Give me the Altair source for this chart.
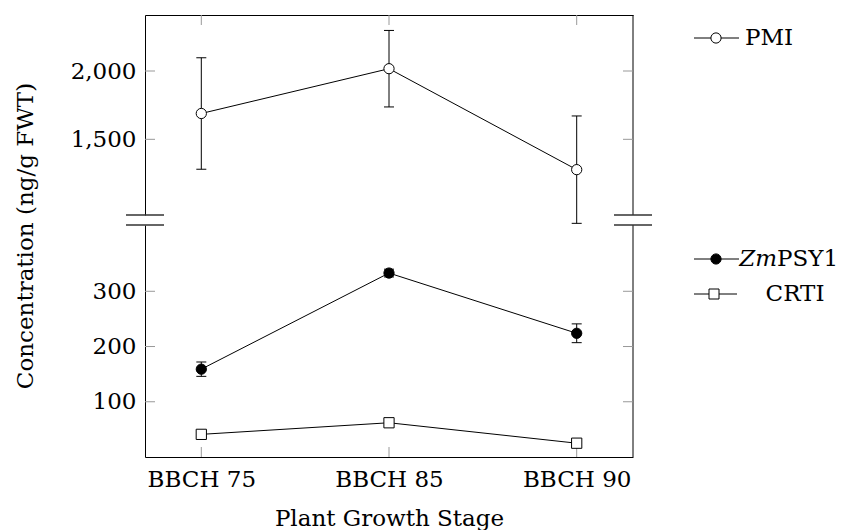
import altair as alt
import pandas as pd

# ---- data ----
stages = ["BBCH 75", "BBCH 85", "BBCH 90"]
pmi_mean = [1689, 2017, 1278]
pmi_err = [408, 280, 393]
psy_mean = [159, 333, 224]
psy_err = [13, 7, 17]
crti_mean = [41, 62, 25]
top_ticks = [1500, 2000]
bottom_ticks = [100, 200, 300]
top_domain = [946, 2410]
bottom_domain = [0, 420]
y_title = "Concentration (ng/g FWT)"
x_title = "Plant Growth Stage"

FONT = "DejaVu Serif"
FS = 23
W = 488
H_TOP = 200
H_BOT = 232
TICK_GRAY = "#999999"

df_pmi = pd.DataFrame({
    "stage": stages, "mean": pmi_mean,
    "lo": [m - e for m, e in zip(pmi_mean, pmi_err)],
    "hi": [m + e for m, e in zip(pmi_mean, pmi_err)],
})
df_psy = pd.DataFrame({
    "stage": stages, "mean": psy_mean,
    "lo": [m - e for m, e in zip(psy_mean, psy_err)],
    "hi": [m + e for m, e in zip(psy_mean, psy_err)],
})
df_crti = pd.DataFrame({"stage": stages, "mean": crti_mean})

xscale = alt.Scale(type="point", domain=stages, padding=0.3)
yscale_top = alt.Scale(domain=top_domain, nice=False, zero=False)
yscale_bot = alt.Scale(domain=bottom_domain, nice=False, zero=False)

x_axis_top = alt.Axis(orient="top", labels=False, ticks=False, domain=True,
                      domainColor="black", domainWidth=1, grid=False, title=None)
x_axis_bot = alt.Axis(orient="bottom", ticks=False, domain=True, domainColor="black",
                      domainWidth=1, grid=False, labelAngle=0, labelPadding=11,
                      title=x_title, titlePadding=16)
y_axis_top = alt.Axis(orient="left", values=top_ticks, format=",.0f", ticks=False,
                      labelPadding=9, domainColor="black", domainWidth=1,
                      grid=False, title=None)
y_axis_bot = alt.Axis(orient="left", values=bottom_ticks, format="d", ticks=False,
                      labelPadding=9, domainColor="black", domainWidth=1,
                      grid=False, title=None)


def X(axis, field="stage"):
    return alt.X(f"{field}:N", scale=xscale, axis=axis)


def series_layers(df, yscale, yaxis, xaxis, shape, fill, with_err=True):
    base = alt.Chart(df)
    layers = []
    if with_err:
        layers.append(base.mark_rule(color="black", strokeWidth=1).encode(
            x=X(xaxis), y=alt.Y("lo:Q", scale=yscale, axis=yaxis), y2="hi:Q"))
        for f in ["lo", "hi"]:
            layers.append(base.mark_tick(color="black", size=10, thickness=1, opacity=1).encode(
                x=X(xaxis), y=alt.Y(f"{f}:Q", scale=yscale, axis=yaxis)))
    layers.append(base.mark_line(color="black", strokeWidth=1).encode(
        x=X(xaxis), y=alt.Y("mean:Q", scale=yscale, axis=yaxis)))
    layers.append(base.mark_point(shape=shape, filled=True, fill=fill, stroke="black",
                                  strokeWidth=1, size=105, opacity=1).encode(
        x=X(xaxis), y=alt.Y("mean:Q", scale=yscale, axis=yaxis)))
    return layers


def frame_layers(ticks, yscale, yaxis, xaxis, height, top_xticks):
    one = pd.DataFrame({"a": [0]})
    tdf = pd.DataFrame({"v": ticks})
    sdf = pd.DataFrame({"stage": stages})
    layers = [
        alt.Chart(one).mark_rule(color="black", strokeWidth=1).encode(
            x=alt.value(W), y=alt.value(0), y2=alt.value(height)),
        alt.Chart(tdf).mark_rule(color=TICK_GRAY, strokeWidth=1).encode(
            y=alt.Y("v:Q", scale=yscale, axis=yaxis), x=alt.value(0), x2=alt.value(10)),
        alt.Chart(tdf).mark_rule(color=TICK_GRAY, strokeWidth=1).encode(
            y=alt.Y("v:Q", scale=yscale, axis=yaxis), x=alt.value(W - 10), x2=alt.value(W)),
    ]
    if top_xticks:
        layers.append(alt.Chart(sdf).mark_rule(color=TICK_GRAY, strokeWidth=1).encode(
            x=X(xaxis), y=alt.value(0), y2=alt.value(10)))
    else:
        layers.append(alt.Chart(sdf).mark_rule(color=TICK_GRAY, strokeWidth=1).encode(
            x=X(xaxis), y=alt.value(height - 10), y2=alt.value(height)))
    by = height if top_xticks else 0
    for cx in [0, W]:
        layers.append(alt.Chart(one).mark_rule(color="#333333", strokeWidth=1.3).encode(
            x=alt.value(cx - 19), x2=alt.value(cx + 19), y=alt.value(by)))
    return layers


# ---- legends ----
leg_top = pd.DataFrame({"name": ["PMI"]})
top_legend = [
    alt.Chart(leg_top).mark_rule(color="black", strokeWidth=1).encode(
        x=alt.value(549), x2=alt.value(594), y=alt.value(23)),
    alt.Chart(leg_top).mark_point(shape="circle", filled=True, fill="white", stroke="black",
                                  strokeWidth=1, size=105, opacity=1).encode(
        x=alt.value(571), y=alt.value(23)),
    alt.Chart(leg_top).mark_text(align="left", baseline="middle", font=FONT, fontSize=FS,
                                 color="black").encode(
        x=alt.value(600), y=alt.value(23), text="name:N"),
]

leg_psy_a = pd.DataFrame({"t": ["Zm"]})
leg_psy_b = pd.DataFrame({"t": ["PSY1"]})
leg_crti = pd.DataFrame({"t": ["CRTI"]})
bot_legend = [
    alt.Chart(leg_psy_a).mark_rule(color="black", strokeWidth=1).encode(
        x=alt.value(549), x2=alt.value(594), y=alt.value(34)),
    alt.Chart(leg_psy_a).mark_point(shape="circle", filled=True, fill="black", stroke="black",
                                    strokeWidth=1, size=105, opacity=1).encode(
        x=alt.value(571), y=alt.value(34)),
    alt.Chart(leg_psy_a).mark_text(align="right", baseline="middle", font=FONT, fontSize=FS,
                                   fontStyle="italic", color="black").encode(
        x=alt.value(632), y=alt.value(34), text="t:N"),
    alt.Chart(leg_psy_b).mark_text(align="left", baseline="middle", font=FONT, fontSize=FS,
                                   color="black").encode(
        x=alt.value(632), y=alt.value(34), text="t:N"),
    alt.Chart(leg_crti).mark_rule(color="black", strokeWidth=1).encode(
        x=alt.value(549), x2=alt.value(592), y=alt.value(69)),
    alt.Chart(leg_crti).mark_point(shape="square", filled=True, fill="white", stroke="black",
                                   strokeWidth=1, size=100, opacity=1).encode(
        x=alt.value(569), y=alt.value(69)),
    alt.Chart(leg_crti).mark_text(align="center", baseline="middle", font=FONT, fontSize=FS,
                                  color="black").encode(
        x=alt.value(650), y=alt.value(69), text="t:N"),
]

ytitle_df = pd.DataFrame({"t": [y_title]})
ytitle = alt.Chart(ytitle_df).mark_text(angle=270, align="center", baseline="middle",
                                        font=FONT, fontSize=FS, color="black").encode(
    x=alt.value(-119), y=alt.value(11), text="t:N")

top = alt.layer(
    *frame_layers(top_ticks, yscale_top, y_axis_top, x_axis_top, H_TOP, True),
    *series_layers(df_pmi, yscale_top, y_axis_top, x_axis_top, "circle", "white"),
    *top_legend,
).properties(width=W, height=H_TOP)

bottom = alt.layer(
    *frame_layers(bottom_ticks, yscale_bot, y_axis_bot, x_axis_bot, H_BOT, False),
    *series_layers(df_psy, yscale_bot, y_axis_bot, x_axis_bot, "circle", "black"),
    *series_layers(df_crti, yscale_bot, y_axis_bot, x_axis_bot, "square", "white", with_err=False),
    *bot_legend,
    ytitle,
).properties(width=W, height=H_BOT)

chart = alt.vconcat(top, bottom, spacing=10, bounds="flush").resolve_scale(
    x="independent", y="independent"
).properties(
    padding={"left": 6, "top": 6, "right": 0, "bottom": 0}
).configure_view(stroke=None).configure_axis(
    labelFont=FONT, labelFontSize=FS, labelColor="black",
    titleFont=FONT, titleFontSize=FS, titleColor="black", titleFontWeight="normal",
)

chart.save("out.html", embed_options={"renderer": "svg", "actions": False})
